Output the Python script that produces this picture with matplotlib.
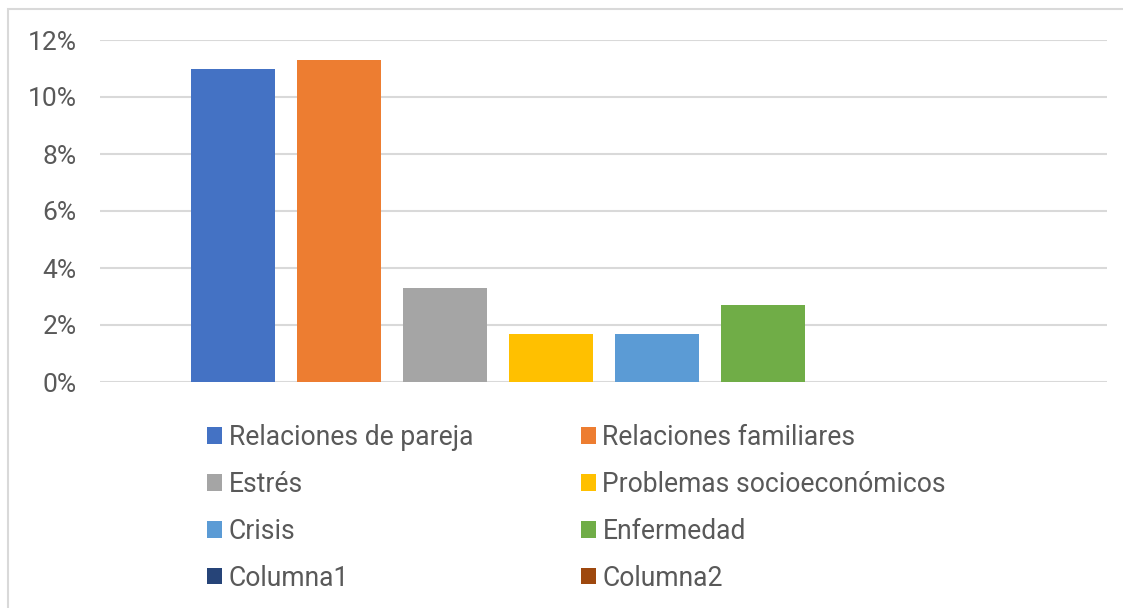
import numpy as np
import matplotlib.pyplot as plt
from matplotlib.patches import Rectangle

plt.rcParams['font.family'] = ['Roboto', 'DejaVu Sans']

series = ['Relaciones de pareja', 'Relaciones familiares', 'Estrés',
          'Problemas socioeconómicos', 'Crisis', 'Enfermedad',
          'Columna1', 'Columna2']
values = [11.0, 11.3, 3.3, 1.7, 1.7, 2.7, 0, 0]
colors = ['#4472C4', '#ED7D31', '#A5A5A5', '#FFC000', '#5B9BD5', '#70AD47',
          '#264478', '#9E480E']
yticks = [0, 2, 4, 6, 8, 10, 12]

txt = '#595959'

fig = plt.figure(figsize=(11.23, 6.08), dpi=100)
fig.patches.append(Rectangle((8 / 1123, -0.1), 1.2, 1 - 9 / 608 + 0.1,
                             transform=fig.transFigure, fill=False,
                             edgecolor='#d9d9d9', linewidth=1.5))
ax = fig.add_axes([100 / 1123, 1 - 382 / 608, 1007 / 1123, 342 / 608])

n = len(series)
handles = []
for i in range(n):
    b = ax.bar(i - (n - 1) / 2, values[i], width=84 / 106, color=colors[i],
               linewidth=0, label=series[i], zorder=3)
    handles.append(b)

ax.set_xlim(-4.75, 4.75)
ax.set_ylim(0, 12)
ax.set_yticks(yticks)
ax.set_yticklabels([f'{t}%' for t in yticks])
ax.set_xticks([])
ax.tick_params(axis='y', length=0, pad=17, labelsize=19, labelcolor=txt)
ax.grid(axis='y', color='#d9d9d9', linewidth=1.5, zorder=0)
for s in ax.spines.values():
    s.set_visible(False)

# Excel fills the legend row by row
order = [0, 2, 4, 6, 1, 3, 5, 7]
leg = fig.legend([handles[i] for i in order], [series[i] for i in order],
                 ncol=2, loc='upper left', bbox_to_anchor=(207 / 1123, 1 - 424 / 608),
                 frameon=False, fontsize=19.1, labelcolor=txt,
                 handlelength=0.57, handleheight=0.57, handletextpad=0.25,
                 labelspacing=0.75, columnspacing=4.05, borderpad=0, borderaxespad=0)

fig.savefig('out.png', dpi=100)
